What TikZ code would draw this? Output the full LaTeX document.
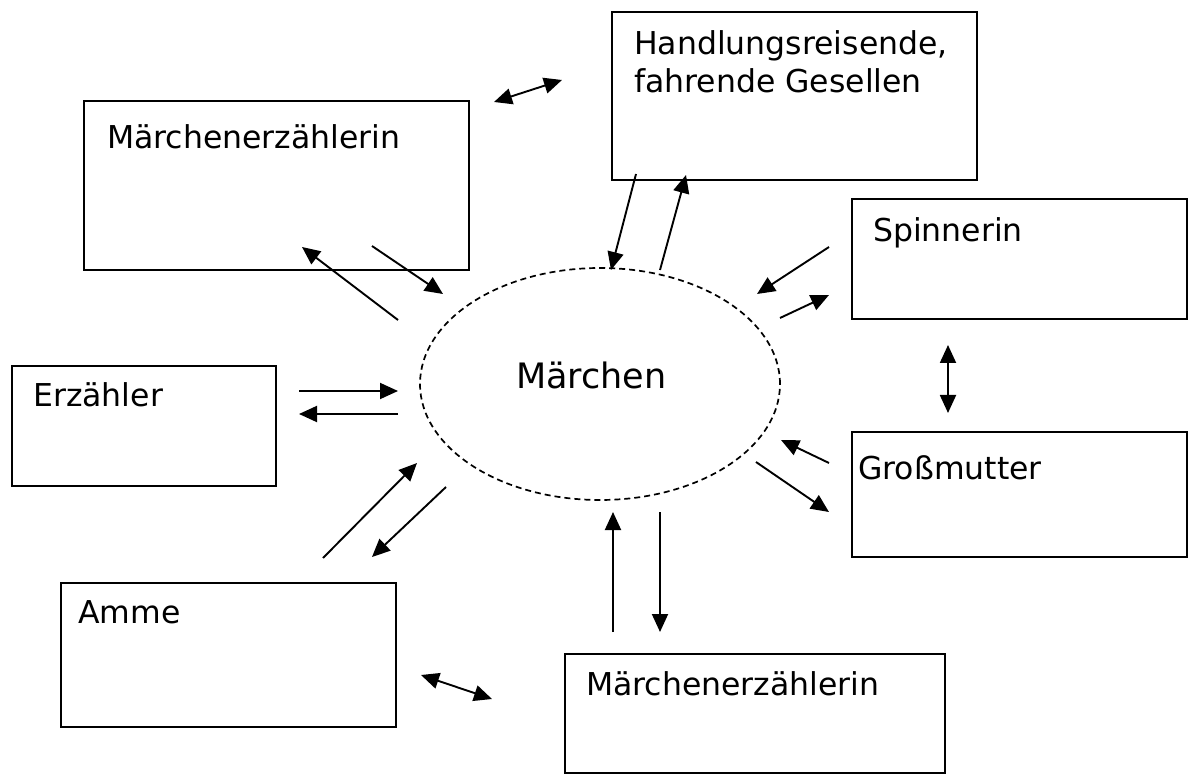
\documentclass[tikz,border=0pt]{standalone}
\usepackage{fontspec}
\setmainfont{DejaVu Sans}
\usetikzlibrary{arrows.meta,shapes.geometric}
\tikzset{
  box/.style={draw=black, line width=2pt},
  lbl/.style={anchor=base west, inner sep=0pt, font=\fontsize{31.5}{39}\selectfont},
  tip/.style={},
  conn/.style={line width=1.9pt, -{Triangle[length=18pt,width=16pt]}},
  dconn/.style={line width=1.9pt, {Triangle[length=18pt,width=16pt]}-{Triangle[length=18pt,width=16pt]}},
}
\begin{document}
\begin{tikzpicture}[x=1pt,y=-1pt]
\useasboundingbox (0,0) rectangle (1200,775);
% boxes
\draw[box] (84,101) rectangle (469,270);
\draw[box] (612,12) rectangle (977,180);
\draw[box] (852,199) rectangle (1187,319);
\draw[box] (852,432) rectangle (1187,557);
\draw[box] (12,366) rectangle (276,486);
\draw[box] (61,583) rectangle (396,727);
\draw[box] (565,654) rectangle (945,773);
% labels
\node[lbl] (t1) at (107,149) {Märchenerzählerin};
\node[lbl] (t2a) at (634,55) {Handlungsreisende,};
\node[lbl] (t2b) at (634,93) {fahrende Gesellen};
\node[lbl] (t3) at (873,242) {Spinnerin};
\node[lbl] (t4) at (858,480) {Großmutter};
\node[lbl] (t5) at (33,407) {Erzähler};
\node[lbl] (t6) at (78,623) {Amme};
\node[lbl] (t7) at (586,695) {Märchenerzählerin};
% ellipse
\node[draw, dash pattern=on 6pt off 4pt, line width=1.7pt, ellipse, minimum width=360pt, minimum height=232pt, inner sep=0pt] (m) at (600,384) {};
\node[anchor=base west, inner sep=0pt, font=\fontsize{35}{42}\selectfont] (mt) at (516,389) {Märchen};
% arrow endpoints
\coordinate (a1s) at (398,320); \coordinate (a1e) at (302,247);
\coordinate (a2s) at (372,246); \coordinate (a2e) at (443,294);
\coordinate (a3s) at (636,174); \coordinate (a3e) at (611,270);
\coordinate (a4s) at (660,270); \coordinate (a4e) at (686,175);
\coordinate (a5s) at (494,102); \coordinate (a5e) at (562,80);
\coordinate (a6s) at (829,247); \coordinate (a6e) at (757,294);
\coordinate (a7s) at (780,318); \coordinate (a7e) at (829,295);
\coordinate (a8s) at (948,345); \coordinate (a8e) at (948,413);
\coordinate (a9s) at (829,463); \coordinate (a9e) at (781,440);
\coordinate (a10s) at (756,462); \coordinate (a10e) at (829,512);
\coordinate (a11s) at (613,632); \coordinate (a11e) at (613,512);
\coordinate (a12s) at (660,512); \coordinate (a12e) at (660,632);
\coordinate (a13s) at (421,675); \coordinate (a13e) at (492,699);
\coordinate (a14s) at (323,558); \coordinate (a14e) at (417,463);
\coordinate (a15s) at (446,487); \coordinate (a15e) at (372,557);
\coordinate (a16s) at (299,391); \coordinate (a16e) at (398,391);
\coordinate (a17s) at (398,414); \coordinate (a17e) at (299,414);
% arrows
\draw[conn] (a1s) -- (a1e);
\draw[conn] (a2s) -- (a2e);
\draw[conn] (a3s) -- (a3e);
\draw[conn] (a4s) -- (a4e);
\draw[dconn] (a5s) -- (a5e);
\draw[conn] (a6s) -- (a6e);
\draw[conn] (a7s) -- (a7e);
\draw[dconn] (a8s) -- (a8e);
\draw[conn] (a9s) -- (a9e);
\draw[conn] (a10s) -- (a10e);
\draw[conn] (a11s) -- (a11e);
\draw[conn] (a12s) -- (a12e);
\draw[dconn] (a13s) -- (a13e);
\draw[conn] (a14s) -- (a14e);
\draw[conn] (a15s) -- (a15e);
\draw[conn] (a16s) -- (a16e);
\draw[conn] (a17s) -- (a17e);
\end{tikzpicture}
\end{document}
